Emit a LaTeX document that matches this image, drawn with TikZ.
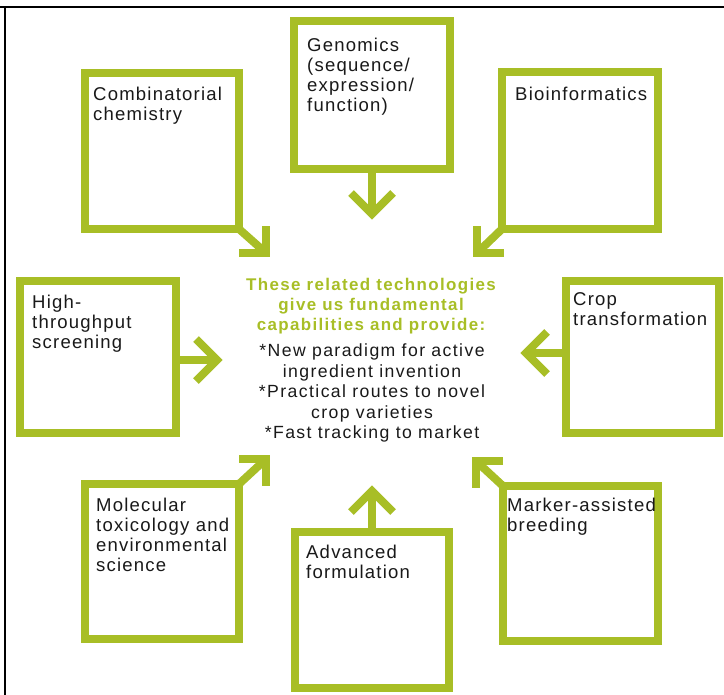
\documentclass[tikz,border=0pt]{standalone}
\usepackage{fontspec}
\newfontfamily\grot{Liberation Sans}[LetterSpace=8]
\newfontfamily\grotlbl{Liberation Sans}[LetterSpace=6.5]
\definecolor{leaf}{RGB}{168,190,38}
\definecolor{ink}{RGB}{25,25,25}
\tikzset{
  techbox/.style={draw=leaf, line width=8bp, outer sep=0pt, inner sep=0pt, fill=white},
  lbl/.style={anchor=north west, inner sep=0pt, align=left, text=ink,
    font=\grotlbl\fontsize{18.6}{20}\selectfont},
  stem/.style={draw=leaf, line width=8bp, line cap=butt},
  chev/.style={draw=leaf, line width=8bp, line cap=butt, line join=miter},
  rule/.style={draw=black, line width=2.5bp}
}
\begin{document}
\begin{tikzpicture}[x=1bp, y=-1bp]
\useasboundingbox (0,0) rectangle (724,695);

% page frame
\draw[rule] (0,7) -- (724,7);
\draw[rule, line width=2bp] (5,7) -- (5,695);

% technology boxes
\node[techbox, minimum width=154bp, minimum height=156bp] (comb) at (162,151) {};
\node[techbox, minimum width=156bp, minimum height=148bp] (geno) at (372,95) {};
\node[techbox, minimum width=156bp, minimum height=157bp] (bioi) at (580,150.5) {};
\node[techbox, minimum width=156bp, minimum height=152bp] (high) at (98,357) {};
\node[techbox, minimum width=153bp, minimum height=152bp] (crop) at (642.5,357) {};
\node[techbox, minimum width=154bp, minimum height=155bp] (mole) at (162,561.5) {};
\node[techbox, minimum width=154bp, minimum height=156bp] (adv) at (372,610) {};
\node[techbox, minimum width=155bp, minimum height=155bp] (mark) at (580.5,563.5) {};

% box labels
\node[lbl] (combt) at ([shift={(8,14)}]comb.north west) {Combinatorial\\chemistry};
\node[lbl] (genot) at ([shift={(13,17)}]geno.north west) {Genomics\\(sequence/\\expression/\\function)};
\node[lbl] (bioit) at ([shift={(13,15)}]bioi.north west) {Bioinformatics};
\node[lbl] (hight) at ([shift={(12,14)}]high.north west) {High-\\throughput\\screening};
\node[lbl] (cropt) at ([shift={(7,11)}]crop.north west) {Crop\\transformation};
\node[lbl] (molet) at ([shift={(11,14)}]mole.north west) {Molecular\\toxicology and\\environmental\\science};
\node[lbl] (advt) at ([shift={(11,13)}]adv.north west) {Advanced\\formulation};
\node[lbl] (markt) at ([shift={(4,12)}]mark.north west) {Marker-assisted\\breeding};

% central statement
\node[anchor=north, inner sep=0pt, align=center, text=leaf,
      font=\grot\bfseries\fontsize{17}{20}\selectfont] (head) at (371,278)
  {These related technologies\\give us fundamental\\capabilities and provide:};
\node[anchor=north, inner sep=0pt, align=center, text=ink,
      font=\grot\fontsize{17.7}{20.5}\selectfont] (body) at (372,344)
  {*New paradigm for active\\ingredient invention\\*Practical routes to novel\\crop varieties\\*Fast tracking to market};

% arrow tips (vertex of each chevron)
\coordinate (gtip) at (372,214);
\coordinate (atip) at (372,491);
\coordinate (htip) at (217,360);
\coordinate (ctip) at (526,353);
\coordinate (cbtip) at (266,253);
\coordinate (bitip) at (477,253);
\coordinate (motip) at (266,459);
\coordinate (matip) at (476,461);

% connectors
\draw[stem] (geno.south) -- (gtip);
\draw[chev] (gtip) ++(-21,-21) -- (gtip) -- ++(21,-21);
\draw[stem] (adv.north) -- (atip);
\draw[chev] (atip) ++(-21,21) -- (atip) -- ++(21,21);
\draw[stem] (high.east |- htip) -- (htip);
\draw[chev] (htip) ++(-21,-21) -- (htip) -- ++(-21,21);
\draw[stem] (crop.west |- ctip) -- (ctip);
\draw[chev] (ctip) ++(21,-21) -- (ctip) -- ++(21,21);
\draw[stem] (comb.south east) -- (cbtip);
\draw[chev] (cbtip) ++(-27,0) -- (cbtip) -- ++(0,-27);
\draw[stem] (bioi.south west) -- (bitip);
\draw[chev] (bitip) ++(27,0) -- (bitip) -- ++(0,-27);
\draw[stem] (mole.north east) -- (motip);
\draw[chev] (motip) ++(-27,0) -- (motip) -- ++(0,27);
\draw[stem] (mark.north west) -- (matip);
\draw[chev] (matip) ++(27,0) -- (matip) -- ++(0,27);
\end{tikzpicture}
\end{document}
